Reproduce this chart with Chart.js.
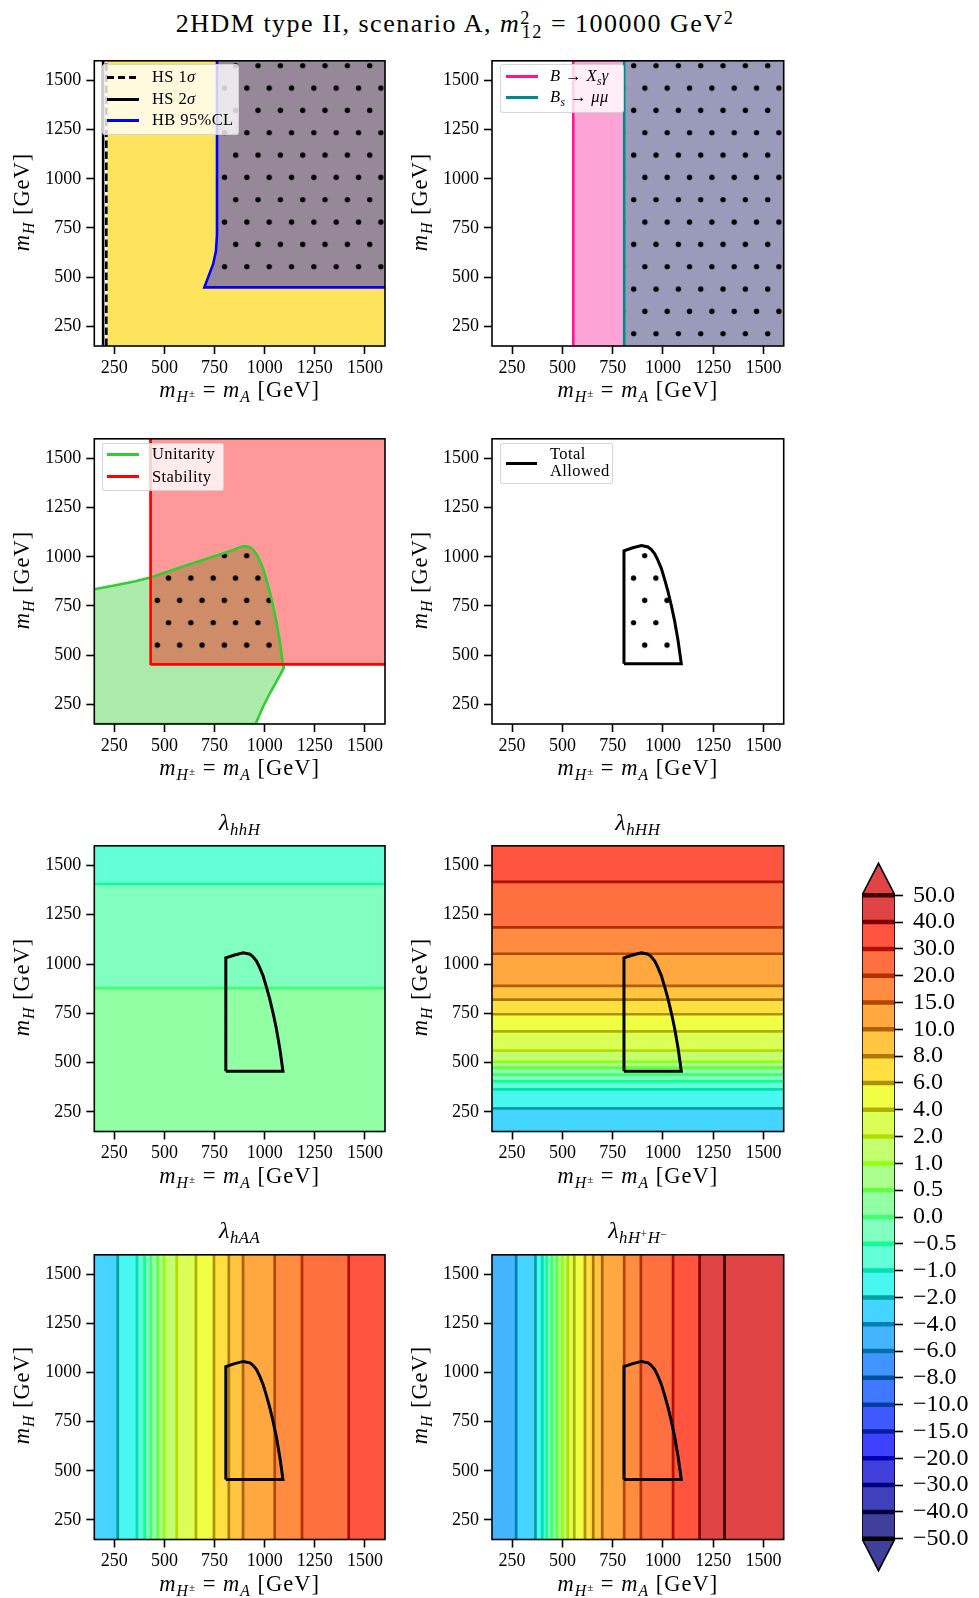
<!DOCTYPE html>
<html>
<head>
<meta charset="utf-8">
<title>2HDM type II, scenario A</title>
<script src="https://cdn.jsdelivr.net/npm/chart.js@4.4.1/dist/chart.umd.min.js"></script>
<style>
  html, body { margin: 0; padding: 0; background: #fff; }
  body { position: relative; width: 979px; height: 1598px; overflow: hidden;
         font-family: "Liberation Serif", "DejaVu Serif", serif; color: #000; }
  canvas { position: absolute; }
  .txt { position: absolute; white-space: nowrap; line-height: 1; }
  .sb { font-size: .7em; position: relative; top: .32em; }
  .sp { font-size: .7em; position: relative; top: -.45em; }
  .leg { position: absolute; box-sizing: border-box; background: rgba(255,255,255,.8);
         border: 1px solid rgba(204,204,204,.8); border-radius: 3px; }
  .smp { position: absolute; height: 3px; }
</style>
</head>
<body>
<script>
/* === Data === */
const AXIS_MIN = 150, AXIS_MAX = 1600;
const massTicks = [250, 500, 750, 1000, 1250, 1500];

// HiggsSignals / HiggsBounds
const hs1sigmaEdge = 210;
const hs2sigmaEdge = 194;
const hsAllowedFrom = 212;
const hbEdgeX = [1600, 699, 718, 743, 757, 762, 762];
const hbEdgeY = [448, 448, 500, 567, 634, 718, 1600];

// flavour
const bsgEdge = 554;
const bsmumuEdge = 807;

// unitarity / stability
const unitUpperX = [150, 263, 350, 429, 611, 760, 843, 870, 892, 910, 926, 942, 959, 975, 992, 1008, 1025, 1042, 1058, 1075, 1085, 1091, 1096];
const unitUpperY = [835, 857, 875, 895, 957, 1007, 1035, 1046, 1054, 1053, 1049, 1036, 1015, 982, 940, 885, 823, 750, 673, 573, 500, 456, 436];
const unitLowerX = [150, 955, 967, 992, 1025, 1066, 1096];
const unitLowerY = [150, 150, 180, 238, 305, 380, 436];
const stabEdgeX = 430;
const stabEdgeY = 453;

// total allowed region
const allowedX = [806, 806, 850, 893, 926, 942, 959, 975, 992, 1008, 1025, 1042, 1058, 1075, 1085, 1091, 806];
const allowedY = [456, 1031, 1046, 1057, 1050, 1037, 1015, 982, 940, 885, 823, 750, 673, 573, 500, 456, 456];

// contour levels
const levels = [-50, -40, -30, -20, -15, -10, -8, -6, -4, -2, -1, -0.5, 0, 0.5, 1, 2, 4, 6, 8, 10, 15, 20, 30, 40, 50];
const cbarLabels = levels.map(v => (v < 0 ? '\u2212' : '') + Math.abs(v).toFixed(1));

// level crossings of the couplings
const hhH_mH = [878, 1406];
const hhH_lv = [0, -0.5];
const hHH_mH = [267, 364, 404, 439, 474, 504, 560, 658, 745, 819, 889, 1052, 1186, 1417];
const hHH_lv = [-2, -1, -0.5, 0, 0.5, 1, 2, 4, 6, 8, 10, 15, 20, 30];
const hAA_mA = [267, 363, 401, 432, 467, 498, 561, 657, 747, 821, 892, 1050, 1186, 1419];
const hAA_lv = [-2, -1, -0.5, 0, 0.5, 1, 2, 4, 6, 8, 10, 15, 20, 30];
const hHpHm_m = [270, 366, 400, 422, 447, 472, 500, 527, 559, 612, 653, 698, 807, 890, 1050, 1182, 1306];
const hHpHm_lv = [-4, -2, -1, -0.5, 0, 0.5, 1, 2, 4, 6, 8, 10, 15, 20, 30, 40, 50];

/* === Styles === */
const FONT = '"Liberation Serif", "DejaVu Serif", serif';
const bandColors = ['#40409c','#4040bc','#4040dc','#4040ff','#4058ff','#4078ff','#4094ff','#44b4ff',
  '#44d4ff','#48f8f0','#62ffd8','#80ffc0','#93ffa5','#abff8c','#c4ff70','#dbff57','#f0ff44',
  '#ffe040','#ffc440','#ffa840','#ff8c40','#ff7040','#ff5540','#e04444'];
const lineColors = ['#000000','#000040','#000080','#0000b0','#0020a0','#0040a0','#0050a0','#0070a8',
  '#0080b0','#00a0a0','#00e0b0','#10ff90','#40ff70','#60ff40','#90ff10','#b0e000','#b0b000',
  '#b09000','#b07800','#b06000','#b04800','#b03000','#b01000','#800000','#400000'];

/* === Layout === */
const boxes = [
  {l: 94.3, t: 57.3, r: 385, b: 346},
  {l: 492, t: 57.3, r: 783.7, b: 346},
  {l: 94.3, t: 435, r: 385, b: 724},
  {l: 492, t: 435, r: 783.7, b: 724},
  {l: 94.3, t: 842.7, r: 385, b: 1131.5},
  {l: 492, t: 842.7, r: 783.7, b: 1131.5},
  {l: 94.3, t: 1251, r: 385, b: 1539.5},
  {l: 492, t: 1251, r: 783.7, b: 1539.5}
];

Chart.defaults.font.family = FONT;
Chart.defaults.animation = false;

const pts = (xs, ys) => xs.map((x, i) => ({x, y: ys[i]}));
const ds = (data, o) => Object.assign({data, borderWidth: 0, pointRadius: 0, fill: false,
  borderColor: 'transparent', tension: 0}, o);
const origin = k => ({cl: Math.floor(boxes[k].l) - 90, ct: Math.floor(boxes[k].t) - 12});

/* === Hatch dots === */
function dots(k, dotX, dotY) {
  const t = document.createElement('canvas');
  t.width = 67; t.height = 134;
  const g = t.getContext('2d');
  g.fillStyle = '#000';
  for (let j = 0; j < 6; j++) for (let i = 0; i < 3; i++) {
    g.beginPath();
    g.arc(5.6 + i * 67 / 3 + (j % 2) * 67 / 6, 5.6 + j * 67 / 3, 2.7, 0, 2 * Math.PI);
    g.fill();
  }
  const p = g.createPattern(t, 'repeat');
  const {cl, ct} = origin(k);
  p.setTransform(new DOMMatrix([1, 0, 0, 1, dotX - cl - 5.6, dotY - ct - 5.6]));
  return p;
}

/* === Frame === */
const frame = {
  id: 'frame',
  afterDatasetsDraw(chart) {
    const {ctx, chartArea: a} = chart;
    ctx.save();
    ctx.strokeStyle = '#000';
    ctx.lineWidth = 1.6;
    ctx.strokeRect(a.left, a.top, a.right - a.left, a.bottom - a.top);
    ctx.restore();
  }
};

function massAxis(isX, size) {
  return {
    type: 'linear', min: AXIS_MIN, max: AXIS_MAX,
    afterBuildTicks: s => { s.ticks = massTicks.map(v => ({value: v})); },
    afterFit: s => { if (isX) s.height = size; else s.width = size; },
    grid: {drawOnChartArea: false, tickLength: 8, tickWidth: 1.6, tickColor: '#000'},
    border: {display: false},
    ticks: {color: '#000', font: {family: FONT, size: 18}, padding: isX ? 3 : 5,
            maxRotation: 0, autoSkip: false, callback: v => String(v)}
  };
}

function panel(k, datasets) {
  const b = boxes[k];
  const {cl, ct} = origin(k);
  const W = Math.ceil(b.r) + 14 - cl, H = Math.ceil(b.b) + 44 - ct;
  const cv = document.createElement('canvas');
  cv.width = W; cv.height = H;
  Object.assign(cv.style, {left: cl + 'px', top: ct + 'px', width: W + 'px', height: H + 'px'});
  document.body.appendChild(cv);
  return new Chart(cv, {
    type: 'line',
    data: {datasets},
    options: {
      responsive: false, devicePixelRatio: 1, animation: false, events: [],
      layout: {padding: {left: 0, top: b.t - ct, right: cl + W - b.r, bottom: 0}},
      scales: {x: massAxis(true, ct + H - b.b), y: massAxis(false, b.l - cl)},
      plugins: {legend: {display: false}, tooltip: {enabled: false}}
    },
    plugins: [frame]
  });
}

/* === Coupling bands === */
function bands(cuts, lv) {
  const idx = v => levels.indexOf(v);
  const up = lv[lv.length - 1] > lv[0];
  const edges = [AXIS_MIN, ...cuts, AXIS_MAX];
  return edges.slice(0, -1).map((lo, k) => {
    let b = k === 0 ? (up ? idx(lv[0]) - 1 : idx(lv[0])) : (up ? idx(lv[k - 1]) : idx(lv[k - 1]) - 1);
    b = Math.max(0, Math.min(bandColors.length - 1, b));
    return {lo, hi: edges[k + 1], color: bandColors[b]};
  });
}

function couplingSets(cuts, lv, horizontal) {
  const out = [];
  bands(cuts, lv).forEach(s => {
    out.push(horizontal
      ? ds(pts([AXIS_MIN, AXIS_MAX], [s.hi, s.hi]), {fill: {value: s.lo}, backgroundColor: s.color, order: 30})
      : ds(pts([s.lo, s.hi], [AXIS_MAX, AXIS_MAX]), {fill: 'start', backgroundColor: s.color, order: 30}));
  });
  cuts.forEach((c, i) => {
    const col = lineColors[levels.indexOf(lv[i])];
    out.push(horizontal
      ? ds(pts([AXIS_MIN, AXIS_MAX], [c, c]), {borderColor: col, borderWidth: 2.7, order: 10})
      : ds(pts([c, c], [AXIS_MIN, AXIS_MAX]), {borderColor: col, borderWidth: 2.7, order: 10}));
  });
  out.push(ds(pts(allowedX, allowedY), {borderColor: '#000', borderWidth: 3, order: 1}));
  return out;
}

/* === Panel 1: HS / HB === */
const hbUpper = pts(hbEdgeX.slice(1).concat([AXIS_MAX]), hbEdgeY.slice(1).concat([AXIS_MAX]));
panel(0, [
  ds(pts([hsAllowedFrom, AXIS_MAX], [AXIS_MAX, AXIS_MAX]), {fill: 'start', backgroundColor: '#fee45c', order: 30}),
  ds(hbUpper, {fill: {value: hbEdgeY[0]}, backgroundColor: '#978899', order: 20}),
  ds(hbUpper, {fill: {value: hbEdgeY[0]}, backgroundColor: dots(0, 235.7, 65.7), order: 15}),
  ds(pts([hs2sigmaEdge, hs2sigmaEdge], [AXIS_MIN, AXIS_MAX]), {borderColor: '#000', borderWidth: 2.6, order: 3}),
  ds(pts([hs1sigmaEdge, hs1sigmaEdge], [AXIS_MIN, AXIS_MAX]), {borderColor: '#000', borderWidth: 2.6, borderDash: [7.5, 3.5], order: 2}),
  ds(pts(hbEdgeX, hbEdgeY), {borderColor: '#0000ff', borderWidth: 2.6, order: 1})
]);

/* === Panel 2: flavour === */
panel(1, [
  ds(pts([bsgEdge, bsmumuEdge], [AXIS_MAX, AXIS_MAX]), {fill: 'start', backgroundColor: '#fea3d6', order: 30}),
  ds(pts([bsmumuEdge, AXIS_MAX], [AXIS_MAX, AXIS_MAX]), {fill: 'start', backgroundColor: '#9a9aba', order: 20}),
  ds(pts([bsmumuEdge, AXIS_MAX], [AXIS_MAX, AXIS_MAX]), {fill: 'start', backgroundColor: dots(1, 633.7, 65.7), order: 15}),
  ds(pts([bsgEdge, bsgEdge], [AXIS_MIN, AXIS_MAX]), {borderColor: '#ff1493', borderWidth: 2.6, order: 2}),
  ds(pts([bsmumuEdge, bsmumuEdge], [AXIS_MIN, AXIS_MAX]), {borderColor: '#008b8b', borderWidth: 2.6, order: 1})
]);

/* === Panel 3: theory === */
const unitUpper = pts(unitUpperX, unitUpperY);
const overlap = unitUpper.filter(p => p.x >= stabEdgeX - 1 && p.x <= 1091).concat([{x: 1093, y: stabEdgeY}]);
const unitLine = unitUpper.concat(pts(unitLowerX, unitLowerY).reverse().slice(1));
panel(2, [
  ds(pts(unitLowerX, unitLowerY), {order: 50}),
  ds(unitUpper, {fill: 0, backgroundColor: 'rgba(50,205,50,0.4)', order: 40}),
  ds(pts([stabEdgeX, AXIS_MAX], [AXIS_MAX, AXIS_MAX]), {fill: {value: stabEdgeY}, backgroundColor: 'rgba(255,0,0,0.4)', order: 30}),
  ds(overlap, {fill: {value: stabEdgeY}, backgroundColor: dots(2, 224.3, 555.7), order: 20}),
  ds(unitLine, {borderColor: '#32cd32', borderWidth: 2.6, order: 2}),
  ds(pts([stabEdgeX, stabEdgeX, stabEdgeX + 2, stabEdgeX + 6, AXIS_MAX],
         [AXIS_MAX, stabEdgeY + 7, stabEdgeY + 2, stabEdgeY, stabEdgeY]), {borderColor: '#ff0000', borderWidth: 2.6, order: 1})
]);

/* === Panel 4: total allowed === */
panel(3, [
  ds(pts(allowedX.slice(1, -1), allowedY.slice(1, -1)), {fill: {value: allowedY[0]}, backgroundColor: dots(3, 644.7, 555.7), order: 20}),
  ds(pts(allowedX, allowedY), {borderColor: '#000', borderWidth: 3, order: 1})
]);

/* === Panels 5-8: couplings === */
panel(4, couplingSets(hhH_mH, hhH_lv, true));
panel(5, couplingSets(hHH_mH, hHH_lv, true));
panel(6, couplingSets(hAA_mA, hAA_lv, false));
panel(7, couplingSets(hHpHm_m, hHpHm_lv, false));

/* === Colorbar === */
(function colorbar() {
  const cl = 852, ct = 836, W = 127, H = 762;
  const cv = document.createElement('canvas');
  cv.width = W; cv.height = H;
  Object.assign(cv.style, {left: cl + 'px', top: ct + 'px', width: W + 'px', height: H + 'px'});
  document.body.appendChild(cv);
  const top = levels.length - 1;
  const sets = [];
  bandColors.forEach((c, k) => sets.push(ds(pts([0, 1], [k + 1, k + 1]), {fill: {value: k}, backgroundColor: c, order: 30})));
  sets.push(ds(pts([0, 0.5, 1], [top, top + 1.19, top]), {fill: {value: top}, backgroundColor: bandColors[bandColors.length - 1], order: 30}));
  sets.push(ds(pts([0, 0.5, 1], [0, -1.19, 0]), {fill: {value: 0}, backgroundColor: bandColors[0], order: 30}));
  levels.forEach((v, k) => sets.push(ds(pts([0, 1], [k, k]), {borderColor: lineColors[k], borderWidth: 4.5, order: 10})));
  sets.push(ds(pts([0, 0, 0.5, 1, 1, 0.5, 0], [0, top, top + 1.19, top, 0, -1.19, 0]), {borderColor: '#000', borderWidth: 1.6, order: 1}));
  new Chart(cv, {
    type: 'line',
    data: {datasets: sets},
    options: {
      responsive: false, devicePixelRatio: 1, animation: false, events: [],
      layout: {padding: {left: 10, top: 10.8, right: 0, bottom: 9.8}},
      scales: {
        x: {type: 'linear', min: 0, max: 1, display: false},
        y: {
          type: 'linear', position: 'right', min: -1.3, max: top + 1.3,
          afterBuildTicks: s => { s.ticks = levels.map((v, k) => ({value: k})); },
          afterFit: s => { s.width = 84; },
          grid: {drawOnChartArea: false, tickLength: 8, tickWidth: 1.6, tickColor: '#000'},
          border: {display: false},
          ticks: {callback: v => cbarLabels[v], color: '#000', font: {family: FONT, size: 24}, padding: 10, autoSkip: false}
        }
      },
      plugins: {legend: {display: false}, tooltip: {enabled: false}}
    }
  });
})();

/* === Texts === */
function label(html, cx, cy, size, how, spacing) {
  const d = document.createElement('div');
  d.className = 'txt';
  d.innerHTML = html;
  d.style.left = cx + 'px';
  d.style.top = cy + 'px';
  d.style.fontSize = size + 'px';
  if (spacing) d.style.letterSpacing = spacing + 'px';
  d.style.transform = how === 'left' ? 'translate(0,-50%)'
    : how === 'rot' ? 'translate(-50%,-50%) rotate(-90deg)' : 'translate(-50%,-50%)';
  document.body.appendChild(d);
  return d;
}

label('2HDM type II, scenario A, <i>m</i><span class="sp">2</span><span class="sb" style="margin-left:-.5em">12</span> = 100000 GeV<span class="sp">2</span>', 455, 24, 26, 'center', 1.5);

const xLabel = '<i>m</i><span class="sb"><i>H</i><span class="sp">\u00b1</span></span> = <i>m</i><span class="sb"><i>A</i></span> [GeV]';
const yLabel = '<i>m</i><span class="sb"><i>H</i></span> [GeV]';
const panelTitles = [null, null, null, null,
  '<i>\u03bb</i><span class="sb"><i>hhH</i></span>',
  '<i>\u03bb</i><span class="sb"><i>hHH</i></span>',
  '<i>\u03bb</i><span class="sb"><i>hAA</i></span>',
  '<i>\u03bb</i><span class="sb"><i>hH</i><span class="sp">+</span><i>H</i><span class="sp">\u2212</span></span>'];

boxes.forEach((b, k) => {
  const cx = (b.l + b.r) / 2, cy = (b.t + b.b) / 2;
  label(xLabel, cx, b.b + 44, 22.5, 'center', 1);
  label(yLabel, b.l - 72, cy, 22.5, 'rot', 1);
  if (panelTitles[k]) label(panelTitles[k], cx, b.t - 21, 24, 'center', 0.5);
});

/* === Legends === */
function legend(x0, y0, x1, y1, rows, sx0, sx1, tx) {
  const box = document.createElement('div');
  box.className = 'leg';
  Object.assign(box.style, {left: x0 + 'px', top: y0 + 'px', width: (x1 - x0) + 'px', height: (y1 - y0) + 'px'});
  document.body.appendChild(box);
  rows.forEach(r => {
    if (r.color) {
      const s = document.createElement('div');
      s.className = 'smp';
      Object.assign(s.style, {left: sx0 + 'px', top: (r.ly ?? r.y) - 1.5 + 'px', width: (sx1 - sx0) + 'px',
        background: r.dash ? `repeating-linear-gradient(to right, ${r.color} 0 7.5px, transparent 7.5px 11px)` : r.color});
      document.body.appendChild(s);
    }
    label(r.html, tx, r.y, 16.5, 'left', 0.4);
  });
}

legend(101.7, 64.3, 239.3, 135, [
  {y: 77, color: '#000', dash: true, html: 'HS 1<i>\u03c3</i>'},
  {y: 99, color: '#000', html: 'HS 2<i>\u03c3</i>'},
  {y: 120, color: '#0000ff', html: 'HB 95%CL'}
], 107, 139, 152);

legend(500, 64.3, 624.3, 112.7, [
  {y: 76.3, color: '#ff1493', html: '<i>B</i> \u2192 <i>X</i><span class="sb"><i>s</i></span><i>\u03b3</i>'},
  {y: 97.3, color: '#008b8b', html: '<i>B</i><span class="sb"><i>s</i></span> \u2192 <i>\u03bc\u03bc</i>'}
], 506, 537.7, 550);

legend(101.7, 442.7, 224, 490.7, [
  {y: 454.3, color: '#32cd32', html: 'Unitarity'},
  {y: 476.7, color: '#ff0000', html: 'Stability'}
], 107, 139, 152);

legend(500, 442.7, 613.3, 484.3, [
  {y: 454.3, ly: 463.3, color: '#000', html: 'Total'},
  {y: 470.7, html: 'Allowed'}
], 506, 537.3, 550);
</script>
</body>
</html>
